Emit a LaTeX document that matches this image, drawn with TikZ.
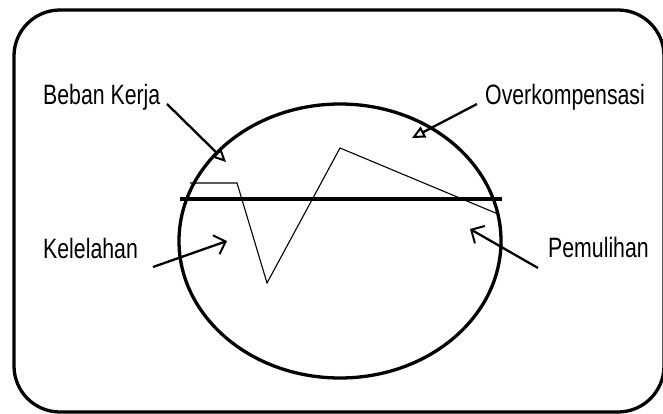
\documentclass[tikz,border=0pt]{standalone}
\usepackage{fontspec}
\newfontfamily\lblfont[FakeStretch=0.76]{Liberation Sans}
\usetikzlibrary{arrows.meta,shapes.geometric}
\begin{document}
\begin{tikzpicture}[x=1pt,y=-1pt,
  lbl/.style={font=\lblfont\fontsize{28}{30}\selectfont, inner sep=0pt, anchor=base west},
  thick line/.style={line width=3.3pt},
  openhead/.style={line width=2.3pt, -{Triangle[open,length=13pt,width=12pt,line width=2pt]}},
  barbhead/.style={line width=2.3pt, -{Straight Barb[length=10pt,width=20pt,line width=2pt]}},
  zig/.style={line width=1.1pt}]
\useasboundingbox (0,0) rectangle (663,414);
% outer frame
\draw[thick line, rounded corners=46pt] (14,10) rectangle (664,412);
% ellipse
\node[draw, thick line, ellipse, minimum width=322pt, minimum height=274pt, inner sep=0pt] (ell) at (340,241) {};
% horizontal line
\coordinate (hl) at (180,199);
\coordinate (hr) at (502,199);
\draw[thick line] (hl) -- (hr);
% zigzag
\coordinate (z1) at (190,183);
\coordinate (z2) at (237,183);
\coordinate (z3) at (267,283);
\coordinate (z4) at (340,148);
\coordinate (z5) at (498,214);
\draw[zig] (z1) -- (z2) -- (z3) -- (z4) -- (z5);
% labels
\node[lbl] (beban) at (43,105) {Beban Kerja};
\node[lbl] (over) at (485,105) {Overkompensasi};
\node[lbl] (kel) at (43,258) {Kelelahan};
\node[lbl] (pem) at (548,257) {Pemulihan};
% arrows
\coordinate (bs) at (167,104);
\coordinate (bt) at (226,162);
\coordinate (os) at (477,104);
\coordinate (ot) at (412,138);
\coordinate (ks) at (153,267);
\coordinate (kt) at (227,241);
\coordinate (ps) at (538,268);
\coordinate (pt) at (470,229);
\draw[openhead] (bs) -- (bt);
\draw[openhead] (os) -- (ot);
\draw[barbhead] (ks) -- (kt);
\draw[barbhead] (ps) -- (pt);
\end{tikzpicture}
\end{document}
